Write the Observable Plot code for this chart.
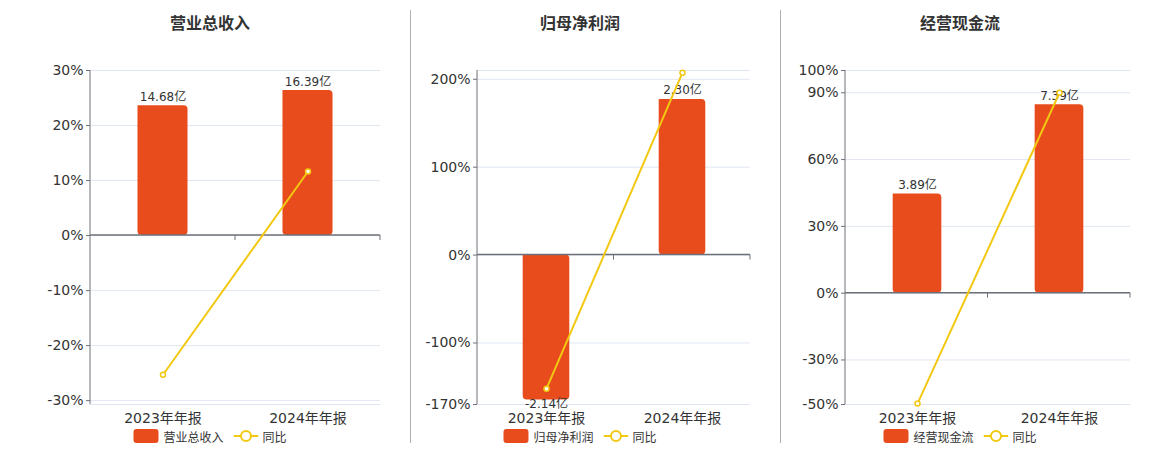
<!DOCTYPE html>
<html><head><meta charset="utf-8">
<script src="https://cdn.jsdelivr.net/npm/d3@7"></script>
<script src="https://cdn.jsdelivr.net/npm/@observablehq/plot@0.6"></script>
<style>
body{margin:0;background:#fff;font-family:"DejaVu Sans","Noto Sans CJK SC",sans-serif;}
#root{position:relative;width:1160px;height:450px;overflow:hidden;background:#fff;}
.title{position:absolute;top:11px;font-size:16px;font-weight:bold;color:#333;transform:translateX(-50%);white-space:nowrap;font-family:"Noto Sans CJK SC",sans-serif;line-height:22px;}
.legend{position:absolute;top:428px;height:16px;display:flex;align-items:center;transform:translateX(-50%);font-size:12px;color:#333;white-space:nowrap;font-family:"Noto Sans CJK SC",sans-serif;}
.legend .sw{width:25px;height:14px;border-radius:3px;margin-right:5px;}
.legend svg{margin-right:4px;}
.sep{position:absolute;top:10px;height:433px;width:1px;background:#b0b0b0;}
.plot{position:absolute;top:60px;}
</style></head><body><div id="root"></div>
<script>
// ---- data ----
const periods = ["2023年年报", "2024年年报"];
const titles = ["营业总收入", "归母净利润", "经营现金流"];
const barValues = [[14.68, 16.39], [-2.14, 2.30], [3.89, 7.39]];      // 亿
const barLabels = [["14.68亿", "16.39亿"], ["-2.14亿", "2.30亿"], ["3.89亿", "7.39亿"]];
const yoyValues = [[-25.3, 11.65], [-152, 207.5], [-49.6, 90.0]];     // 同比 %
const pctDomains = [[-30.7, 30], [-170, 210], [-50, 100]];
const barAxisMax = [18.65, 2.727, 8.73];                              // hidden right axis max (亿), zero-aligned
const pctTicks = [[-30, -20, -10, 0, 10, 20, 30], [-170, -100, 0, 100, 200], [-50, -30, 0, 30, 60, 90, 100]];
const legendBar = ["营业总收入", "归母净利润", "经营现金流"];
const legendLine = "同比";

// ---- layout ----
const panelLeft = [0, 411, 781];
const panelWidth = [410, 369, 379];
const marginLefts = [90, 66, 64];
const titleCenter = [210, 580, 960];
const separators = [410, 780];
const BAR = "#e84c1d", LINE = "#f2c811", AXIS = "#6e7079", GRID = "#e0e6f1";

const root = document.getElementById("root");

separators.forEach(x => {
  const s = document.createElement("div");
  s.className = "sep"; s.style.left = x + "px"; root.appendChild(s);
});

titles.forEach((t, i) => {
  const d = document.createElement("div");
  d.className = "title"; d.textContent = t; d.style.left = titleCenter[i] + "px";
  root.appendChild(d);

  const lg = document.createElement("div");
  lg.className = "legend"; lg.style.left = titleCenter[i] + "px";
  lg.innerHTML = `<div class="sw" style="background:${BAR}"></div><span style="margin-right:10px">${legendBar[i]}</span>` +
    `<svg width="25" height="14"><line x1="0" x2="25" y1="7" y2="7" stroke="${LINE}" stroke-width="2"/><circle cx="12.5" cy="7" r="5" fill="#fff" stroke="${LINE}" stroke-width="2"/></svg><span>${legendLine}</span>`;
  root.appendChild(lg);

  const domain = pctDomains[i];
  const k = domain[1] / barAxisMax[i];
  const data = periods.map((p, j) => ({p, v: barValues[i][j], label: barLabels[i][j], yoy: yoyValues[i][j]}));
  const W = panelWidth[i], ML = marginLefts[i], MR = 30;
  const step = (W - ML - MR) / periods.length;
  const inset = step * (1 - 0.345) / 2;
  const gridVals = Array.from(new Set([...pctTicks[i], domain[0], domain[1]]));

  const axisMark = (index, scales, values, dims) => {
    const g = d3.create("svg:g");
    const y = scales.y;
    const x1 = dims.marginLeft, x2 = dims.width - dims.marginRight;
    g.append("line").attr("x1", x1).attr("x2", x1).attr("y1", y(domain[1])).attr("y2", y(domain[0]))
      .attr("stroke", AXIS).attr("stroke-width", 1);
    const y0 = y(0);
    g.append("line").attr("x1", x1).attr("x2", x2).attr("y1", y0).attr("y2", y0)
      .attr("stroke", AXIS).attr("stroke-width", 1.5);
    const st = (x2 - x1) / periods.length;
    for (let j = 1; j <= periods.length; j++) {
      g.append("line").attr("x1", x1 + st * j).attr("x2", x1 + st * j).attr("y1", y0).attr("y2", y0 + 5)
        .attr("stroke", AXIS).attr("stroke-width", 1);
    }
    return g.node();
  };

  const chart = Plot.plot({
    width: W, height: 370,
    marginLeft: ML, marginRight: MR, marginTop: 10, marginBottom: 26,
    style: {fontFamily: '"DejaVu Sans","Noto Sans CJK SC",sans-serif', color: "#333", background: "transparent", overflow: "visible"},
    x: {domain: periods, padding: 0, axis: null},
    y: {domain, axis: null},
    marks: [
      Plot.gridY(gridVals, {stroke: GRID, strokeOpacity: 1}),
      Plot.axisY({ticks: pctTicks[i], tickFormat: d => d + "%", tickSize: 4, tickPadding: 3, fontSize: 14, stroke: AXIS, fill: "#333", label: null}),
      Plot.axisX({tickSize: 0, tickPadding: 9, fontSize: 14, fill: "#333", label: null}),
      Plot.barY(data, {x: "p", y1: 0, y2: d => d.v * k, fill: BAR, ry2: 4, rx2: 4, insetLeft: inset, insetRight: inset}),
      Plot.text(data.filter(d => d.v >= 0), {x: "p", y: d => d.v * k, text: "label", lineAnchor: "bottom", dy: -5, fontSize: 12, fill: "#333"}),
      Plot.text(data.filter(d => d.v < 0), {x: "p", y: d => d.v * k, text: "label", lineAnchor: "top", dy: 0, fontSize: 12, fill: "#333"}),
      axisMark,
      Plot.line(data, {x: "p", y: "yoy", stroke: LINE, strokeWidth: 2}),
      Plot.dot(data, {x: "p", y: "yoy", r: 2.5, stroke: LINE, fill: "#fff", strokeWidth: 1.5})
    ]
  });
  chart.classList.add("plot");
  chart.style.left = panelLeft[i] + "px";
  chart.style.position = "absolute";
  chart.style.top = "60px";
  root.appendChild(chart);
});
</script></body></html>
